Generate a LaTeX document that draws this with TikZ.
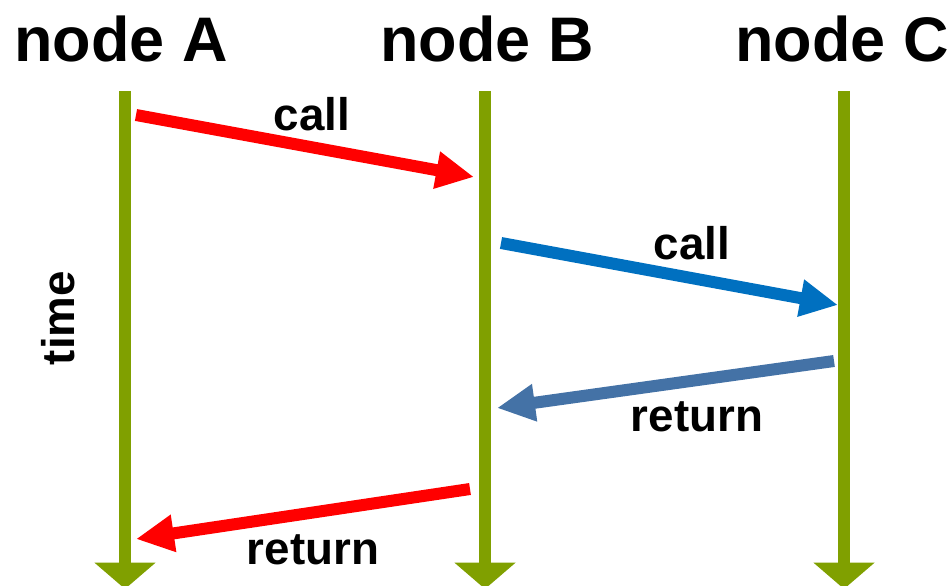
\documentclass[tikz,border=0pt]{standalone}
\usepackage{fontspec}
\setmainfont{Liberation Sans}
\usetikzlibrary{arrows.meta}
\definecolor{lifegreen}{RGB}{128,160,0}
\definecolor{callblue}{RGB}{0,112,192}
\definecolor{retblue}{RGB}{68,114,166}

\begin{document}
\begin{tikzpicture}[x=0.01cm,y=-0.01cm,
	lifeline/.style={line width=0.12cm,lifegreen,-{Triangle[length=7.5pt,width=17pt]}},
	msg/.style={line width=0.12cm,-{Triangle[length=10.8pt,width=10pt]}},
	title/.style={anchor=base,font=\fontsize{17.9}{20}\selectfont\bfseries},
	lbl/.style={anchor=base,font=\fontsize{13}{15}\selectfont\bfseries}]
	\useasboundingbox (0,0) rectangle (952,585);
	\node[title] (A) at (121,62) {node A};
	\node[title] (B) at (487,62) {node B};
	\node[title] (C) at (842,62) {node C};
	\foreach \n/\x in {A/125,B/485,C/844}
	{
		\coordinate (\n top) at (\x,91);
		\coordinate (\n bot) at (\x,589);
		\draw[lifeline] (\n top) -- (\n bot);
	}
	\node[lbl,rotate=90] (time) at (74,318) {time};
	\coordinate (c1s) at (136,115);
	\coordinate (c1e) at (474,177);
	\coordinate (c2s) at (501,243);
	\coordinate (c2e) at (838,305);
	\coordinate (r1s) at (834,361);
	\coordinate (r1e) at (497,408);
	\coordinate (r2s) at (470,489);
	\coordinate (r2e) at (136,539);
	\draw[msg,red] (c1s) -- (c1e);
	\draw[msg,callblue] (c2s) -- (c2e);
	\draw[msg,retblue] (r1s) -- (r1e);
	\draw[msg,red] (r2s) -- (r2e);
	\node[lbl] (call1) at (312,131) {call};
	\node[lbl] (call2) at (692,259) {call};
	\node[lbl] (ret1) at (697,431) {return};
	\node[lbl] (ret2) at (313,564) {return};
\end{tikzpicture}
\end{document}
